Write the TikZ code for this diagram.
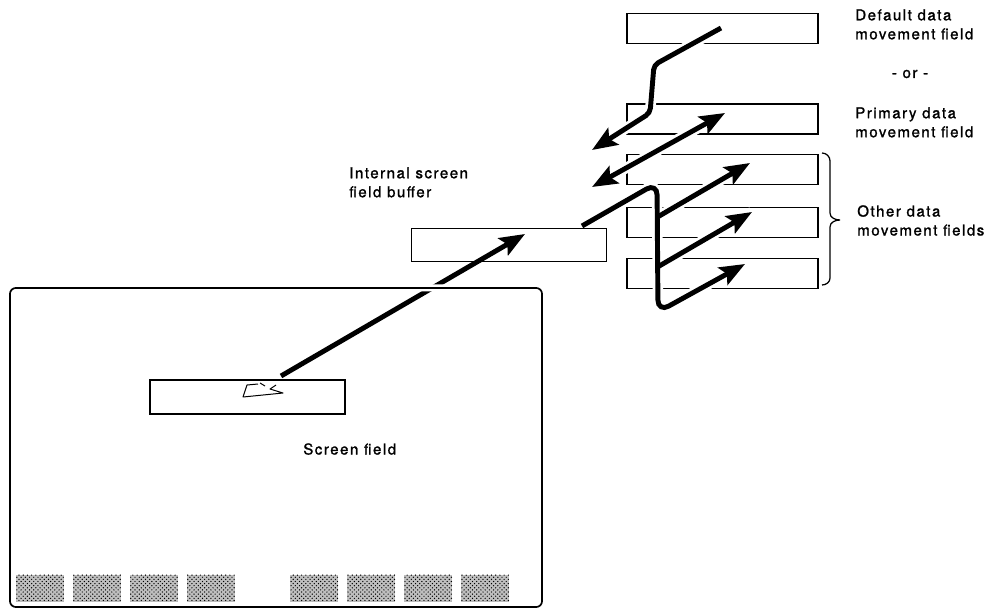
\documentclass[tikz,border=0pt]{standalone}
\usepackage{fontspec}
\setmainfont{TeX Gyre Heros}[LetterSpace=10, FakeBold=1.3]
\usetikzlibrary{arrows.meta,patterns}
\newcommand\lblfont{\fontsize{10.7}{13.5}\selectfont}

\begin{document}
\begin{tikzpicture}[
    x=0.025cm, y=-0.025cm,
    fld/.style={rectangle, draw, line width=0.9pt, minimum width=4.775cm, minimum height=0.75cm, inner sep=0pt},
    softkey/.style={rectangle, preaction={fill=black!25}, pattern=crosshatch dots, pattern color=black, minimum width=1.2cm, minimum height=0.675cm, inner sep=0pt},
    lbl/.style={align=left, anchor=north west, inner sep=0pt, font=\lblfont},
    move/.style={line width=3.5pt, -{Stealth[length=18pt, width=14pt, inset=3.5pt]}},
    halo/.style={preaction={draw=white, line width=7.5pt, -, shorten <=#1}},
    halo/.default=0pt
]
\useasboundingbox (0,0) rectangle (1003,611);

% Screen field with cursor
\node[fld, minimum width=4.875cm, minimum height=0.85cm] (scrfld) at (247.5,397) {};
\draw[line width=0.7pt, line join=round] (258,384) -- (247,385) -- (243,397) -- (283,393) -- (270,389) -- (276,385);
\draw[line width=0.7pt] (260,383) -- (265,386);

% Soft keys
\foreach \i in {0,...,3} {
  \node[softkey] (keyl\i) at (40+57*\i,588) {};
  \node[softkey] (keyr\i) at (314+57*\i,588) {};
}

% Internal buffer and data movement fields
\node[fld, minimum width=4.875cm, minimum height=0.825cm] (buf) at (509,245) {};
\node[fld] (dflt) at (722.5,28.5) {};
\node[fld] (prim) at (722.5,119) {};
\node[fld] (oth1) at (722.5,169.5) {};
\node[fld] (oth2) at (722.5,222.5) {};
\node[fld] (oth3) at (722.5,273.5) {};

% Points on the moves
\coordinate (s0) at (281,376);
\coordinate (s1) at (525,234);
\coordinate (d0) at (721,28);
\coordinate (d1) at (654,65);
\coordinate (d2) at (650,113);
\coordinate (d3) at (592,150);
\coordinate (p0) at (592,187);
\coordinate (p1) at (725,113);
\coordinate (o0) at (582,226);
\coordinate (o1) at (657,183);
\coordinate (o2) at (658,312);
\coordinate (o3) at (745,264);
\coordinate (a0) at (657.5,217);
\coordinate (a1) at (750,163);
\coordinate (b0) at (657.5,267);
\coordinate (b1) at (752,212);

% Screen field to buffer
\draw[move] (s0) -- (s1);

% Screen
\node[preaction={draw=white, line width=5pt}, draw, line width=1.2pt, rounded corners=0.15cm, minimum width=13.3cm, minimum height=7.975cm, inner sep=0pt] (screen) at (276,447.5) {};

% Buffer to and from the fields
\draw[move, halo, rounded corners=0.12cm] (d0) -- (d1) -- (d2) -- (d3);
\draw[move, halo, {Stealth[length=18pt, width=14pt, inset=3.5pt]}-{Stealth[length=18pt, width=14pt, inset=3.5pt]}] (p0) -- (p1);
\draw[move, halo=6pt, rounded corners=0.3cm] (o0) -- (o1) -- (o2) -- (o3);
\draw[move, halo=6pt] (a0) -- (a1);
\draw[move, halo=6pt] (b0) -- (b1);

% Brace
\coordinate (br0) at (822,153);
\coordinate (br1) at (830,161);
\coordinate (br2) at (830,213);
\coordinate (br3) at (840,220);
\coordinate (br4) at (830,227);
\coordinate (br5) at (830,278);
\coordinate (br6) at (822,285);
\draw[line width=0.9pt] (br0) to[out=0, in=90] (br1) -- (br2) to[out=270, in=180] (br3)
  (br3) to[out=180, in=90] (br4) -- (br5) to[out=270, in=0] (br6);

% Labels
\node[lbl] (dfltlbl) at (855,9) {Default data\\movement field};
\node[font=\lblfont, inner sep=0pt] (orlbl) at (910,74) {- or -};
\node[lbl] (primlbl) at (855,107) {Primary data\\movement field};
\node[lbl] (othlbl) at (857,205) {Other data\\movement fields};
\node[lbl] (buflbl) at (349,167) {Internal screen\\field buffer};
\node[lbl] (scrlbl) at (303,443) {Screen field};

\end{tikzpicture}
\end{document}
